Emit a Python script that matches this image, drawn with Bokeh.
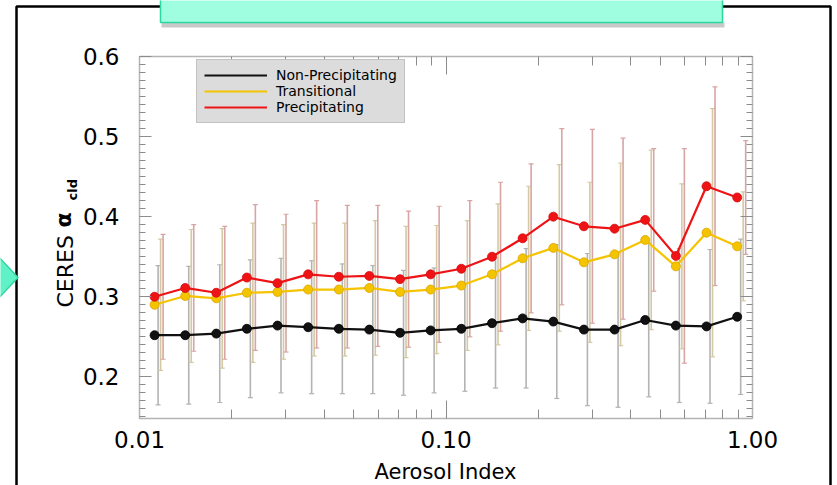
import numpy as np
from bokeh.plotting import figure
from bokeh.models import (ColumnDataSource, Whisker, TeeHead, FixedTicker, LinearAxis, LogAxis,
                          Legend, LegendItem, Label, PolyAnnotation, Range1d, NumeralTickFormatter)
from bokeh.embed import file_html
from bokeh.resources import INLINE

# ---- data -------------------------------------------------------------
# Aerosol index bin centres (log-spaced bins)
aerosol_index = [0.0112, 0.0141, 0.0178, 0.0224, 0.0282, 0.0355, 0.0447, 0.0562, 0.0708, 0.0891,
                 0.1122, 0.1413, 0.1778, 0.2239, 0.2818, 0.3548, 0.4467, 0.5623, 0.7079, 0.8913]

# Mean CERES cloud albedo per bin
non_precip = [0.252, 0.252, 0.254, 0.260, 0.264, 0.262, 0.260, 0.259, 0.255, 0.258,
              0.260, 0.267, 0.273, 0.269, 0.259, 0.259, 0.271, 0.264, 0.263, 0.275]
transitional = [0.290, 0.301, 0.298, 0.305, 0.306, 0.309, 0.309, 0.311, 0.306, 0.309,
                0.314, 0.328, 0.348, 0.361, 0.343, 0.353, 0.371, 0.338, 0.380, 0.363]
precip = [0.300, 0.311, 0.305, 0.324, 0.317, 0.328, 0.325, 0.326, 0.322, 0.328,
          0.335, 0.350, 0.373, 0.400, 0.388, 0.385, 0.396, 0.351, 0.438, 0.424]

# Standard deviation per bin
non_precip_sd = [0.087, 0.086, 0.086, 0.086, 0.084, 0.083, 0.081, 0.080, 0.078, 0.078,
                 0.078, 0.081, 0.087, 0.096, 0.095, 0.097, 0.096, 0.096, 0.096, 0.097]
transitional_sd = [0.082, 0.083, 0.087, 0.087, 0.084, 0.083, 0.083, 0.084, 0.082, 0.080,
                   0.081, 0.088, 0.090, 0.104, 0.100, 0.114, 0.112, 0.103, 0.155, 0.068]
precip_sd = [0.078, 0.079, 0.083, 0.091, 0.086, 0.092, 0.089, 0.088, 0.085, 0.085,
             0.085, 0.093, 0.093, 0.110, 0.121, 0.113, 0.089, 0.134, 0.124, 0.071]

series_names = ["Non-Precipitating", "Transitional", "Precipitating"]

x_ticks = [0.01, 0.1, 1.0]
y_ticks = [0.2, 0.3, 0.4, 0.5, 0.6]

# ---- layout -----------------------------------------------------------
# The plotting frame fills the whole canvas; the axes are pinned at the data
# box edges so text and slide decorations around the box are not clipped.
W, H = 837, 485
FL, FT, FR, FB = 139, 56, 752, 418          # data box edges (canvas px)
X0, X1 = 0.01, 1.0
Y0, Y1 = 0.148, 0.6
ppd = (FR - FL) / np.log10(X1 / X0)        # px per decade
upp = (Y1 - Y0) / (FB - FT)                # y units per px

x_range = Range1d(10 ** (np.log10(X0) - FL / ppd), 10 ** (np.log10(X0) + (W - FL) / ppd))
y_range = Range1d(Y0 - (H - FB) * upp, Y1 + FT * upp)

p = figure(width=W, height=H, x_axis_type="log", x_range=x_range, y_range=y_range,
           x_axis_location=None, y_axis_location=None,
           output_backend="svg", toolbar_location=None,
           min_border=0, min_border_left=0, min_border_right=0,
           min_border_top=0, min_border_bottom=0)
p.title.visible = False
p.grid.visible = False
p.outline_line_color = None
p.background_fill_color = "white"
p.border_fill_color = "white"

x_minor = [m * 10.0 ** e for e in (-2, -1) for m in range(2, 10)]
y_minor = [round(v, 2) for v in np.arange(0.15, 0.6001, 0.01)]

TICK = "#8c8c8c"
FRAME = "#b4b4b4"
LABEL_FONT = "DejaVu Sans"


def make_x_axis(at, labels):
    ax = LogAxis(fixed_location=at, bounds=(X0, X1))
    ax.ticker = FixedTicker(ticks=x_ticks, minor_ticks=x_minor)
    ax.axis_line_color = FRAME
    ax.axis_line_width = 1.5
    ax.major_tick_in, ax.major_tick_out = 18, 0
    ax.minor_tick_in, ax.minor_tick_out = 9, 0
    ax.major_tick_line_color = TICK
    ax.minor_tick_line_color = TICK
    if labels:
        ax.formatter = NumeralTickFormatter(format="0.00")
        ax.major_label_text_font = LABEL_FONT
        ax.major_label_text_font_size = "23px"
        ax.major_label_text_color = "black"
        ax.major_label_standoff = 12
    else:
        ax.major_label_text_color = None
        ax.major_label_text_font_size = "1px"
    return ax


def make_y_axis(at, labels):
    ax = LinearAxis(fixed_location=at, bounds=(Y0, Y1))
    ax.ticker = FixedTicker(ticks=y_ticks, minor_ticks=y_minor)
    ax.axis_line_color = FRAME
    ax.axis_line_width = 1.5
    ax.major_tick_in, ax.major_tick_out = 12, 0
    ax.minor_tick_in, ax.minor_tick_out = 6, 0
    ax.major_tick_line_color = TICK
    ax.minor_tick_line_color = TICK
    if labels:
        ax.formatter = NumeralTickFormatter(format="0.0")
        ax.major_label_text_font = LABEL_FONT
        ax.major_label_text_font_size = "23px"
        ax.major_label_text_color = "black"
        ax.major_label_standoff = 20
    else:
        ax.major_label_text_color = None
        ax.major_label_text_font_size = "1px"
    return ax


p.add_layout(make_x_axis(Y0, True), "below")
p.add_layout(make_x_axis(Y1, False), "above")
p.add_layout(make_y_axis(X0, True), "left")
p.add_layout(make_y_axis(X1, False), "right")

# ---- error bars (offset slightly to the right of each point) -----------
line_colors = ["#111111", "#f5c400", "#ee1416"]
edge_colors = ["#000000", "#d9a400", "#d40c10"]
bar_colors = ["#b3b3b3", "#d4c9a2", "#d8a4a4"]
bar_offsets_px = [3.5, 6.0, 8.5]
means = [non_precip, transitional, precip]
sds = [non_precip_sd, transitional_sd, precip_sd]

xa = np.array(aerosol_index)
for m, s, c, off in zip(means, sds, bar_colors, bar_offsets_px):
    m, s = np.array(m), np.array(s)
    src = ColumnDataSource(dict(base=xa * 10 ** (off / ppd), lower=m - s, upper=m + s))
    p.add_layout(Whisker(source=src, base="base", lower="lower", upper="upper",
                         dimension="height", line_color=c, line_width=1.6,
                         upper_head=TeeHead(size=5, line_color=c, line_width=1.2),
                         lower_head=TeeHead(size=5, line_color=c, line_width=1.2)))

# ---- mean curves ----------------------------------------------------------
legend_items = []
for name, m, c, e in zip(series_names, means, line_colors, edge_colors):
    r = p.line(aerosol_index, m, line_color=c, line_width=2.2)
    p.scatter(aerosol_index, m, size=9, fill_color=c, line_color=e, line_width=0.8)
    legend_items.append(LegendItem(label=name, renderers=[r]))


# screen units are measured from the frame's bottom-left corner
def sx(cx):
    return cx


def sy(cy):
    return H - cy


legend = Legend(items=legend_items, location=(sx(196), sy(123)),
                glyph_width=63, glyph_height=16, label_height=16, label_standoff=9,
                spacing=0, padding=7, margin=0,
                border_line_color="#a8a8a8", border_line_width=1.5,
                background_fill_color="#dcdcdc", background_fill_alpha=1.0,
                label_text_font=LABEL_FONT, label_text_font_size="14px",
                label_text_color="black")
p.add_layout(legend)

# ---- axis titles ----------------------------------------------------------
p.add_layout(Label(x=sx(445), y=sy(471), x_units="screen", y_units="screen",
                   text="Aerosol Index", text_align="center", text_baseline="alphabetic",
                   text_font=LABEL_FONT, text_font_size="21px", text_color="black"))
p.add_layout(Label(x=sx(65), y=sy(307), x_units="screen", y_units="screen",
                   text="CERES", angle=np.pi / 2, text_align="left", text_baseline="alphabetic",
                   text_font=LABEL_FONT, text_font_size="22px", text_color="black"))
p.add_layout(Label(x=sx(63), y=sy(227), x_units="screen", y_units="screen",
                   text="α", angle=np.pi / 2, text_align="left", text_baseline="alphabetic",
                   text_font=LABEL_FONT, text_font_size="22px", text_font_style="bold",
                   text_color="black"))
p.add_layout(Label(x=sx(72), y=sy(200), x_units="screen", y_units="screen",
                   text="cld", angle=np.pi / 2, text_align="left", text_baseline="alphabetic",
                   text_font=LABEL_FONT, text_font_size="13px", text_font_style="bold",
                   text_color="black"))


# ---- slide decorations ------------------------------------------------------
def poly(pts, **kw):
    p.add_layout(PolyAnnotation(xs=[sx(a) for a, _ in pts], ys=[sy(b) for _, b in pts],
                                xs_units="screen", ys_units="screen", level="overlay",
                                line_alpha=1.0, **kw))


poly([(16, 6), (830, 6), (830, 520), (16, 520)], fill_color=None, fill_alpha=0,
     line_color="black", line_width=2.5)
poly([(-4, 254), (17.5, 277), (-4, 300)], fill_color="#5ff2c6", fill_alpha=1.0,
     line_color="#2fd6a0", line_width=1.5)
poly([(161, 22), (724, 22), (724, 27), (161, 27)], fill_color="#c9c9c9", fill_alpha=1.0,
     line_color=None)
poly([(160, -6), (722, -6), (722, 22), (160, 22)], fill_color="#9ffde0", fill_alpha=1.0,
     line_color="#2ad9a0", line_width=1.5)

open("out.html", "w").write(file_html(p, INLINE))
